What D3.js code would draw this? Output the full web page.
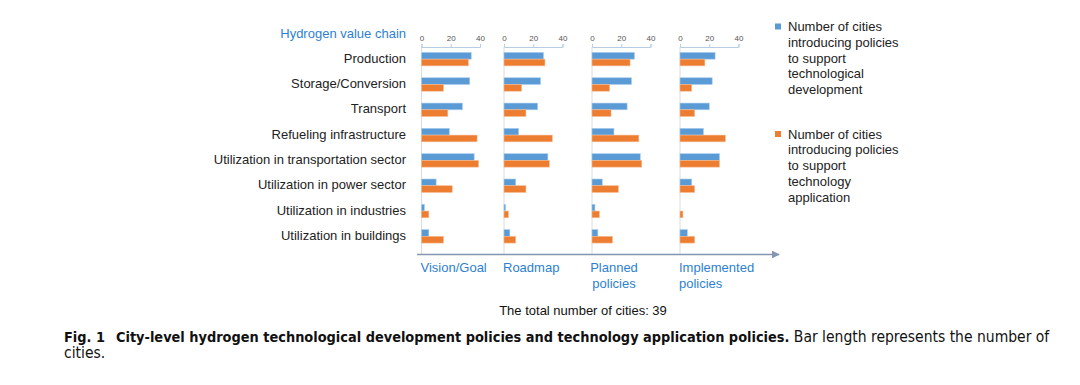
<!DOCTYPE html>
<html>
<head>
<meta charset="utf-8">
<script src="https://cdn.jsdelivr.net/npm/d3@7"></script>
<style>
  body { margin: 0; background: #fff; }
  svg text { font-family: "Liberation Sans", Arial, sans-serif; }
</style>
</head>
<body>
<div id="chart"></div>
<script>
// categories along the hydrogen value chain
const chainSteps = ["Production", "Storage/Conversion", "Transport", "Refueling infrastructure",
  "Utilization in transportation sector", "Utilization in power sector",
  "Utilization in industries", "Utilization in buildings"];

// policy stages (panels)
const stages = ["Vision/Goal", "Roadmap", "Planned policies", "Implemented policies"];

// number of cities, tech development policies (blue), one array per stage
const techDevVision      = [34, 33, 28, 19, 36, 10, 2, 5];
const techDevRoadmap     = [27, 25, 23, 10, 30, 8, 1, 4];
const techDevPlanned     = [29, 27, 24, 15, 33, 7, 2, 4];
const techDevImplemented = [24, 22, 20, 16, 27, 8, 0, 5];

// number of cities, technology application policies (orange)
const techAppVision      = [32, 15, 18, 38, 39, 21, 5, 15];
const techAppRoadmap     = [28, 12, 15, 33, 31, 15, 3, 8];
const techAppPlanned     = [26, 12, 13, 32, 34, 18, 5, 14];
const techAppImplemented = [17, 8, 10, 31, 27, 10, 2, 10];

const tickValues = [0, 20, 40];
const totalCities = 39;

// build a small table from the arrays
const devByStage = [techDevVision, techDevRoadmap, techDevPlanned, techDevImplemented];
const appByStage = [techAppVision, techAppRoadmap, techAppPlanned, techAppImplemented];
const panels = stages.map((s, i) => ({
  stage: s,
  rows: chainSteps.map((c, j) => ({ cat: c, values: [devByStage[i][j], appByStage[i][j]] }))
}));

var width = 1080, height = 385;
var colors = ["#5b9bd5", "#ed7d31"];
var blueText = "#2e7fd1";
var panelLeft = [421.5, 504, 592, 680]; // left edge of each small panel

var svg = d3.select("#chart").append("svg")
  .attr("width", width).attr("height", height);

// shared scales
var x = d3.scaleLinear().domain([0, 40]).range([0, 58.5]);
var y = d3.scaleBand().domain(chainSteps).range([46.5, 249]).paddingInner(0.47).paddingOuter(0.235);
var ySub = d3.scaleBand().domain([0, 1]).range([0, y.bandwidth()]);

// row labels
svg.append("text")
  .attr("x", 406).attr("y", 33).attr("dy", "0.35em")
  .attr("text-anchor", "end").style("font-size", "13px").attr("fill", blueText)
  .text("Hydrogen value chain");

svg.selectAll(".rowlabel").data(chainSteps).enter().append("text")
  .attr("class", "rowlabel")
  .attr("x", 406).attr("y", d => y(d) + y.bandwidth() / 2 - 1)
  .attr("dy", "0.35em").attr("text-anchor", "end")
  .style("font-size", "13px").attr("fill", "#222")
  .text(d => d);

// panels
panels.forEach((p, i) => {
  var g = svg.append("g").attr("transform", "translate(" + panelLeft[i] + ",0)");

  // vertical baseline
  g.append("line").attr("x1", 0).attr("x2", 0).attr("y1", 47).attr("y2", 254)
    .attr("stroke", "#dcdcdc").attr("stroke-width", 1);

  // top axis
  var ax = g.append("g").attr("transform", "translate(0,47)")
    .call(d3.axisTop(x).tickValues(tickValues).tickSize(3).tickPadding(3));
  ax.select(".domain").attr("stroke", "#b7cde6");
  ax.selectAll(".tick line").attr("stroke", "#b7cde6");
  ax.selectAll(".tick text").attr("fill", "#555").style("font-size", "8px");

  var rows = g.selectAll(".row").data(p.rows).enter().append("g")
    .attr("transform", d => "translate(0," + y(d.cat) + ")");

  rows.selectAll("rect").data(d => d.values).enter().append("rect")
    .attr("x", 0)
    .attr("y", (d, k) => ySub(k))
    .attr("width", d => x(d))
    .attr("height", ySub.bandwidth())
    .attr("fill", (d, k) => colors[k])
    .attr("stroke", (d, k) => k === 0 ? "#a9cbee" : "#f5b98f")
    .attr("stroke-width", 0.6);
});

// bottom arrow
var defs = svg.append("defs");
defs.append("marker").attr("id", "arrow")
  .attr("viewBox", "0 0 10 10").attr("refX", 9).attr("refY", 5)
  .attr("markerWidth", 6).attr("markerHeight", 6).attr("orient", "auto")
  .append("path").attr("d", "M0,0 L10,5 L0,10 z").attr("fill", "#8496b0");

svg.append("line").attr("x1", 417).attr("x2", 779).attr("y1", 254.5).attr("y2", 254.5)
  .attr("stroke", "#8496b0").attr("stroke-width", 1.3).attr("marker-end", "url(#arrow)");

// stage labels
var stageLines = [["Vision/Goal"], ["Roadmap"], ["Planned", "policies"], ["Implemented", "policies"]];
stageLines.forEach((lines, i) => {
  var t = svg.append("text").attr("y", 272).style("font-size", "13px").attr("fill", blueText);
  var anchor = i === 2 ? "middle" : "start";
  var xpos = i === 2 ? panelLeft[i] + 22 : panelLeft[i] - 1;
  t.attr("text-anchor", anchor);
  lines.forEach((l, k) => {
    t.append("tspan").attr("x", xpos).attr("dy", k === 0 ? 0 : 16).text(l);
  });
});

svg.append("text").attr("x", 583).attr("y", 315).attr("text-anchor", "middle")
  .style("font-size", "13px").attr("fill", "#111")
  .text("The total number of cities: " + totalCities);

// legend
var legendLines = [["Number of cities", "introducing policies", "to support", "technological", "development"],
  ["Number of cities", "introducing policies", "to support", "technology", "application"]];
var legendTop = [26.5, 134];
legendLines.forEach((lines, k) => {
  svg.append("rect").attr("x", 775).attr("y", legendTop[k] - 3).attr("width", 6).attr("height", 6)
    .attr("fill", colors[k]);
  var t = svg.append("text").style("font-size", "13px").attr("fill", "#222");
  lines.forEach((l, j) => {
    t.append("tspan").attr("x", 788).attr("y", legendTop[k] + j * 15.8).attr("dy", "0.35em").text(l);
  });
});

// caption
var capFont = "'Liberation Sans Narrow', 'DejaVu Sans Condensed', sans-serif";
var cap = svg.append("text").attr("x", 64).attr("y", 342)
  .style("font-family", capFont).attr("fill", "#111");
cap.append("tspan").attr("font-weight", "bold").style("font-size", "14.4px").text("Fig. 1");
cap.append("tspan").attr("dx", 11).attr("font-weight", "bold").style("font-size", "14.4px")
  .text("City-level hydrogen technological development policies and technology application policies.");
cap.append("tspan").style("font-size", "15.5px").text(" Bar length represents the number of");
svg.append("text").attr("x", 64).attr("y", 358)
  .style("font-family", capFont)
  .style("font-size", "15.5px").attr("fill", "#111").text("cities.");
</script>
</body>
</html>
